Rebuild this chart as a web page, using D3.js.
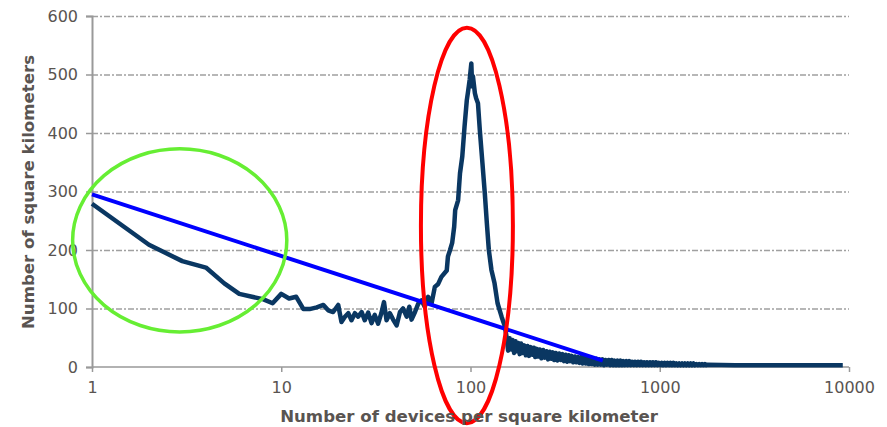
<!DOCTYPE html>
<html>
<head>
<meta charset="utf-8">
<script src="https://cdn.jsdelivr.net/npm/d3@7"></script>
<style>
  html, body { margin: 0; padding: 0; background: #fff; }
  svg { display: block; }
</style>
</head>
<body>
<svg id="chart" width="887" height="427"></svg>
<script>
// ---- data ----
const xTicks = [1, 10, 100, 1000, 10000];
const yTicks = [0, 100, 200, 300, 400, 500, 600];
const xTitle = "Number of devices per square kilometer";
const yTitle = "Number of square kilometers";

// devices per km² (x) and number of km² (y), head and peak
const densityX = [
  1,2,3,4,5,6,7,8,9,10,11,12,13.1,14.1,15.4,16.7,17.7,18.8,20,20.8,21.7,22.6,23.5,24.5,25.5,26.6,27.6,28.8,30,31.2,32.5,33.8,34.9,36,37.5,39,40.7,42.4,44,46,47.5,48.8,50.9,52.9,55.1,57.3,59.7,62.2,64.8,67.5,70.2,74.9,
  76,78,80,82,83,86,88,90.5,93,95.6,97,99,101,102,103,105.5,107,109.5,112,115.6,119,122,125,129,134,139,146,152
];
const densityY = [
  279,209,181,170,143,125,120,116,109,125,117,120,99,99,102,106,97,94,106,77,86,92,80,92,86,94,80,93,75,89,74,92,111,80,92,81,71,94,100,86,103,81,94,108,114,103,120,108,137,142,154,165,
  189,200,212,240,268,285,331,360,411,456,470,491,519,480,497,468,460,451,405,349,297,246,200,166,143,109,86,69
];
// noisy tail [x, y]
const tailPoints = [
  [155,52],[158,28],[161,49],[164,30],[167,46],[170,24],[173,44],[176,27],[179,41],[182,22],[185,40],[188,24],[192,37],[196,20],[200,36],[204,19],[208,34],[212,21],[216,33],[220,17],[224,31],[228,18],[232,30],[237,15],[242,29],[247,16],[252,27],[257,13],[262,26],[267,14],[272,25],[277,12],[282,24],[288,11],[294,23],[300,12],[306,22],[312,10],[318,21],[324,9],[330,20],[336,10],[342,19],[349,8],[356,18],[363,8],[370,17],[377,7],[384,17],[391,6],[398,16],[406,6],[414,15],[422,5],[430,15],[438,5],[446,14],[454,4],[462,14],[471,4],[480,13],[489,4],[498,13],[507,3],[516,12],[526,4],[536,12],[546,3],[556,12],[566,3],[576,11],[587,3],[598,11],[609,3],[620,11],[631,3],[642,10],[654,3],[666,10],[678,3],[690,10],[703,3],[716,9],[729,3],[742,9],[756,3],[770,9],[784,3],[798,9],[813,3],[828,8],[843,3],[858,8],[874,3],[890,8],[906,3],[922,8],[939,3],[956,8],[973,3],[990,7],[1008,3],[1026,7],[1044,3],[1063,7],[1082,3],[1101,7],[1121,3],[1141,7],[1161,3],[1182,7],[1203,3],[1224,6],[1246,3],[1268,6],[1290,3],[1313,6],[1336,3],[1359,6],[1383,3],[1407,6],[1432,3],[1457,6],[1482,3],[1508,6],[1534,3],[1561,5],[1588,3],[1616,5],[1644,3],[1673,5],[1702,3],[1732,5],[1762,3],[1793,4],
  [2500,3],[4000,3],[6000,3],[9270,3]
];

// fitted trend line endpoints
const trendX = [1, 500];
const trendY = [295, 11];

// annotation ellipses (bounds in data units)
const ellipseNames = ["low", "peak"];
const ellipseXMin = [0.79, 54.7];
const ellipseXMax = [10.7, 167.5];
const ellipseYMin = [60, -96];
const ellipseYMax = [373, 580];
const ellipseColors = ["#66ee33", "#ff0000"];

// ---- chart ----
const svg = d3.select("#chart");
const x = d3.scaleLog().domain([1, 10000]).range([92, 849]);
const y = d3.scaleLinear().domain([0, 600]).range([367, 16]);

const textColor = "#595451";
const font = "'DejaVu Sans', Verdana, sans-serif";

// grid lines
svg.append("g")
  .selectAll("line")
  .data(yTicks.filter(d => d > 0))
  .join("line")
  .attr("x1", x(1)).attr("x2", x(10000))
  .attr("y1", d => y(d) + 0.5).attr("y2", d => y(d) + 0.5)
  .attr("stroke", "#a0a0a0")
  .attr("stroke-width", 1.3)
  .attr("stroke-dasharray", "6,2,2,2");

// y axis
const yAxis = d3.axisLeft(y).tickValues(yTicks).tickSize(6).tickPadding(8).tickFormat(d3.format("d"));
const gy = svg.append("g").attr("transform", `translate(${x(1)},0)`).call(yAxis);
gy.select(".domain").attr("stroke", "#999").attr("stroke-width", 2);
gy.selectAll(".tick line").attr("stroke", "#999").attr("stroke-width", 1.5);
gy.selectAll(".tick text").attr("fill", textColor).attr("font-family", font).attr("font-size", 16);

// x axis
const xAxis = d3.axisBottom(x).tickValues(xTicks).tickSize(5).tickPadding(10).tickFormat(d3.format("d"));
const gx = svg.append("g").attr("transform", `translate(0,${y(0)})`).call(xAxis);
gx.select(".domain").attr("stroke", "#999").attr("stroke-width", 1.5).attr("d", `M${x(1)},0H${x(10000)}`);
gx.selectAll(".tick line").attr("stroke", "#999").attr("stroke-width", 1.5);
gx.selectAll(".tick text").attr("fill", textColor).attr("font-family", font).attr("font-size", 16);

// data line
const pts = densityX.map((d, i) => [d, densityY[i]]).concat(tailPoints);
svg.append("path")
  .datum(pts)
  .attr("fill", "none")
  .attr("stroke", "#0a3762")
  .attr("stroke-width", 4.5)
  .attr("stroke-linejoin", "round")
  .attr("d", d3.line().x(d => x(d[0])).y(d => y(d[1])));

// trend line
svg.append("path")
  .datum(trendX.map((d, i) => [d, trendY[i]]))
  .attr("fill", "none")
  .attr("stroke", "#0000ff")
  .attr("stroke-width", 4)
  .attr("d", d3.line().x(d => x(d[0])).y(d => y(d[1])));

// ellipses
svg.append("g")
  .selectAll("ellipse")
  .data(ellipseNames.map((n, i) => ({
    n, x0: ellipseXMin[i], x1: ellipseXMax[i], y0: ellipseYMin[i], y1: ellipseYMax[i], c: ellipseColors[i]
  })))
  .join("ellipse")
  .attr("cx", d => (x(d.x0) + x(d.x1)) / 2)
  .attr("cy", d => (y(d.y0) + y(d.y1)) / 2)
  .attr("rx", d => (x(d.x1) - x(d.x0)) / 2)
  .attr("ry", d => (y(d.y0) - y(d.y1)) / 2)
  .attr("fill", "none")
  .attr("stroke", d => d.c)
  .attr("stroke-width", d => d.n === "low" ? 3.5 : 4);

// axis titles
svg.append("text")
  .attr("x", 469).attr("y", 422)
  .attr("text-anchor", "middle")
  .attr("font-family", font).attr("font-weight", "bold").attr("font-size", 16.6)
  .attr("fill", textColor)
  .text(xTitle);

svg.append("text")
  .attr("transform", "translate(34,192) rotate(-90)")
  .attr("text-anchor", "middle")
  .attr("font-family", font).attr("font-weight", "bold").attr("font-size", 16.6)
  .attr("fill", textColor)
  .text(yTitle);
</script>
</body>
</html>
